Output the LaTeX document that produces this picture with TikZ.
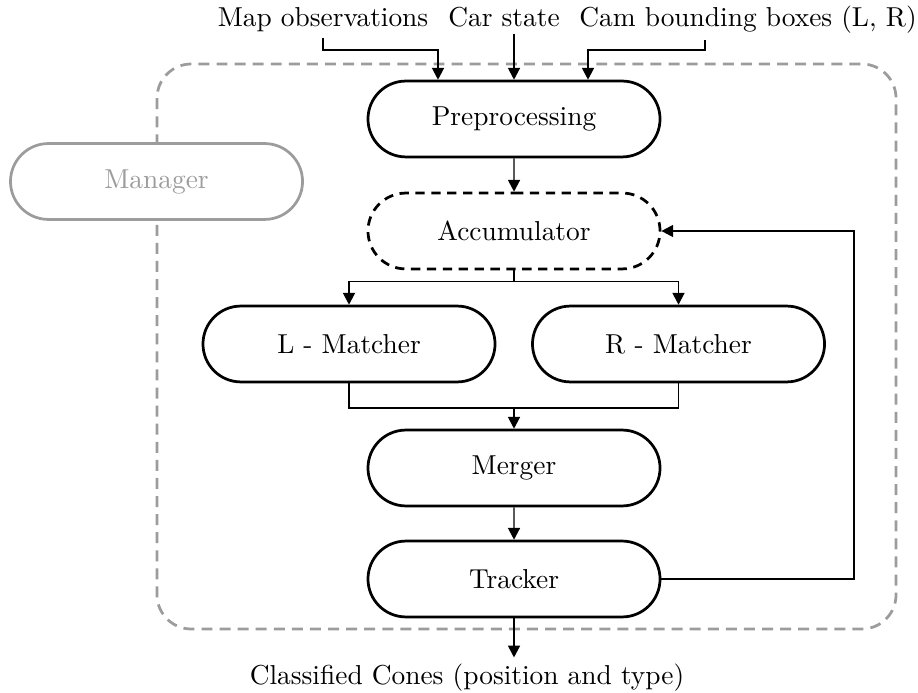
\documentclass[tikz,border=0pt]{standalone}
\usetikzlibrary{shapes.misc,arrows.meta}
\definecolor{mgrey}{HTML}{9C9C9C}
\tikzset{
  blk/.style={rounded rectangle, draw, line width=1pt, minimum width=106.6pt,
    minimum height=27.7pt, inner sep=0pt, fill=white},
  conn/.style={line width=0.5pt, -{Triangle[length=4.3pt,width=4.4pt]}},
  plain/.style={line width=0.5pt},
  lbl/.style={anchor=base, inner sep=2pt},
}
\begin{document}
\begin{tikzpicture}[x=0.365pt,y=-0.365pt]
\useasboundingbox (0,0) rectangle (918,693);
% outer dashed boundary
\draw[mgrey, line width=1pt, dash pattern=on 4pt off 2.6pt, rounded corners=12.5pt]
  (157,64) rectangle (896,629);
% nodes
\node[blk, draw=mgrey, text=mgrey] (man) at (156.5,181.5) {Manager};
\node[blk] (pre) at (514,119) {Preprocessing};
\node[blk, dash pattern=on 3.4pt off 2.4pt] (acc) at (514,231) {Accumulator};
\node[blk] (lm) at (349,344) {L - Matcher};
\node[blk] (rm) at (678.5,344) {R - Matcher};
\node[blk] (mer) at (514,468) {Merger};
\node[blk] (trk) at (514,579) {Tracker};
\node[lbl] (map) at (323,27) {Map observations};
\node[lbl] (car) at (504,27) {Car state};
\node[lbl] (cam) at (748,27) {Cam bounding boxes (L, R)};
\node[lbl] (out) at (467,684) {Classified Cones (position and type)};
% helper coordinates
\coordinate (mx) at (438,50);
\coordinate (cxs) at (705,0);
\coordinate (cx) at (588,50);
\coordinate (fb) at (854,0);
\coordinate (join) at (514,408);
% inputs
\draw[conn] (map.south) |- (mx) -- (mx |- pre.north);
\draw[conn] (pre.north |- car.south) -- (pre.north);
\draw[conn] (cxs |- cam.south) |- (cx) -- (cx |- pre.north);
% main flow
\draw[conn] (pre) -- (acc);
\draw[conn] (acc.south) -- ++(0,11) -| (lm.north);
\draw[conn] (acc.south) -- ++(0,11) -| (rm.north);
\draw[plain] (lm.south) |- (join);
\draw[plain] (rm.south) |- (join);
\draw[conn] (join) -- (mer.north);
\draw[conn] (mer) -- (trk);
\draw[conn] (trk.east) -| (fb |- acc.east) -- (acc.east);
\draw[conn] (trk.south) -- (trk.south |- out.north);
\end{tikzpicture}
\end{document}
